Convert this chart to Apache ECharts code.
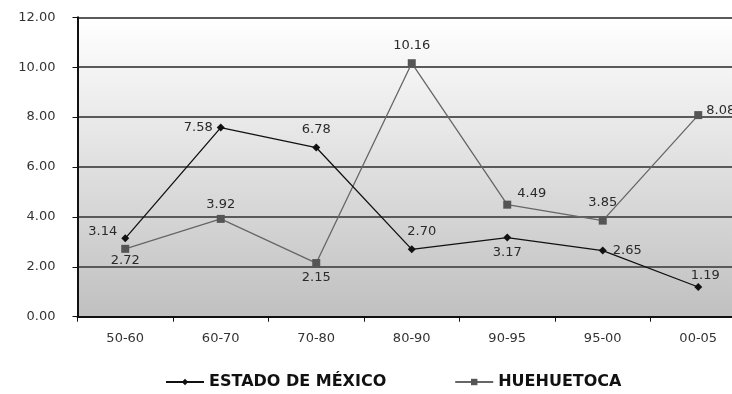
<!DOCTYPE html>
<html>
<head>
<meta charset="utf-8">
<script src="https://cdn.jsdelivr.net/npm/echarts@6/dist/echarts.min.js"></script>
<style>
  html, body { margin: 0; padding: 0; background: #fff; }
  #chart { width: 732px; height: 394px; }
</style>
</head>
<body>
<div id="chart"></div>
<script>
// Growth rate by period
const periods = ['50-60', '60-70', '70-80', '80-90', '90-95', '95-00', '00-05'];
const estadoMexico = [3.14, 7.58, 6.78, 2.70, 3.17, 2.65, 1.19];
const huehuetoca = [2.72, 3.92, 2.15, 10.16, 4.49, 3.85, 8.08];
const yTicks = { min: 0, max: 12, interval: 2 };

// label placement for each point
const estadoLabelPos = ['left', 'left', 'top', 'top', 'bottom', 'right', 'top'];
const estadoOffsets = [[0, -7], [0, 0], [0, -3], [10, -3], [0, 1], [2, 0], [7, 3]];
const huehLabelPos = ['bottom', 'top', 'bottom', 'top', 'right', 'top', 'right'];
const huehOffsets = [[0, -3], [0, 0], [0, 0], [0, -3], [2, -11], [0, -4], [0, -4]];

const smallFont = { fontFamily: 'DejaVu Sans', fontSize: 13, color: '#2a2a2a' };

function points(values, positions, offsets) {
  return values.map((v, i) => ({
    value: v,
    label: { position: positions[i], offset: offsets[i] }
  }));
}

const chart = echarts.init(document.getElementById('chart'));
chart.setOption({
  animation: false,
  grid: {
    left: 77.5, top: 17.3, bottom: 77.3, width: 668.5,
    outerBoundsMode: 'none',
    containLabel: false,
    show: true,
    borderWidth: 0,
    backgroundColor: new echarts.graphic.LinearGradient(0, 0, 0, 1, [
      { offset: 0, color: '#ffffff' },
      { offset: 1, color: '#c0c0c0' }
    ])
  },
  legend: {
    top: 369,
    left: 160,
    itemGap: 68,
    itemWidth: 38,
    itemHeight: 8,
    textStyle: { fontFamily: 'DejaVu Sans', fontSize: 16, fontWeight: 'bold', color: '#111' },
    data: ['ESTADO DE MÉXICO', 'HUEHUETOCA']
  },
  xAxis: {
    type: 'category',
    data: periods,
    boundaryGap: true,
    axisLine: { lineStyle: { color: '#111', width: 2 } },
    axisTick: { show: true, length: 5, lineStyle: { color: '#111', width: 1 } },
    axisLabel: { margin: 15, ...smallFont, color: '#333' }
  },
  yAxis: {
    type: 'value',
    min: yTicks.min, max: yTicks.max, interval: yTicks.interval,
    axisLine: { show: true, lineStyle: { color: '#111', width: 2 } },
    axisTick: { show: true, length: 5, lineStyle: { color: '#111' } },
    axisLabel: { margin: 22, ...smallFont, color: '#333', formatter: v => v.toFixed(2) },
    splitLine: { show: true, lineStyle: { color: '#5a5a5a', width: 2 } }
  },
  series: [
    {
      name: 'ESTADO DE MÉXICO',
      type: 'line',
      data: points(estadoMexico, estadoLabelPos, estadoOffsets),
      symbol: 'diamond',
      symbolSize: 8,
      itemStyle: { color: '#111' },
      lineStyle: { color: '#111', width: 1.3 },
      label: { show: true, distance: 4, ...smallFont, formatter: p => p.value.toFixed(2) },
      z: 3
    },
    {
      name: 'HUEHUETOCA',
      type: 'line',
      data: points(huehuetoca, huehLabelPos, huehOffsets),
      symbol: 'rect',
      symbolSize: 8,
      itemStyle: { color: '#555' },
      lineStyle: { color: '#666', width: 1.3 },
      label: { show: true, distance: 4, ...smallFont, formatter: p => p.value.toFixed(2) },
      z: 2
    }
  ]
});
</script>
</body>
</html>
